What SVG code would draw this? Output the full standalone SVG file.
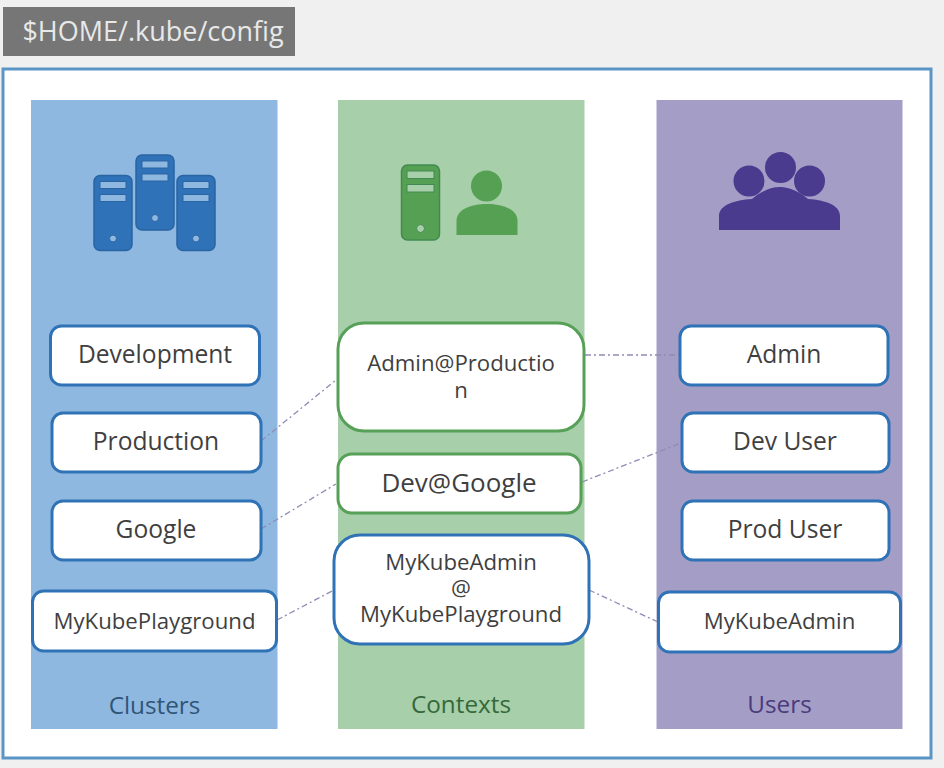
<svg xmlns="http://www.w3.org/2000/svg" width="944" height="768" viewBox="0 0 944 768">
<style>
text{font-family:"Open Sans","Noto Sans",sans-serif;fill:#3f3f3f;text-anchor:middle}
.n{fill:#fff;stroke-width:3}
.b{stroke:#2f72b5}.g{stroke:#57a057}
.t{font-size:24.600px}.d{font-size:26px}.s{font-size:22.200px}.l{font-size:24.300px}
.c{fill:none;stroke:#8f8cb4;stroke-width:1.3;stroke-dasharray:6 3 2 3}
.sv{fill:#2f72b8;stroke:#2a64a3;stroke-width:1.5}
.sl{fill:#8fb8e0;stroke:#2a64a3;stroke-width:1}
.gv{fill:#55a052;stroke:#438a52;stroke-width:1.5}
.gl{fill:#a7cfa9;stroke:#438a52;stroke-width:1}
</style>
<rect width="944" height="768" fill="#f0f0f0"/>
<g id="title"><rect x="3" y="7" width="292" height="49" fill="#767676"/><text x="153" y="41" style="fill:#e8e8e8;font-size:27px">$HOME/.kube/config</text></g>
<rect x="3" y="69" width="928" height="689" fill="#fff" stroke="#5b95c6" stroke-width="3"/>
<rect x="31" y="100" width="246.500" height="629" fill="#8fb8e0"/>
<rect x="338" y="100" width="246.500" height="629" fill="#a7cfa9"/>
<rect x="656.500" y="100" width="246" height="629" fill="#a49dc6"/>
<g id="clusters-icon">
<rect class="sv" x="94" y="175.500" width="38" height="75" rx="6"/><rect class="sl" x="100" y="181.500" width="26" height="7"/><rect class="sl" x="100" y="194.500" width="26" height="7"/><circle class="sl" cx="113" cy="238.500" r="3.500"/>
<rect class="sv" x="136" y="155" width="38" height="75" rx="6"/><rect class="sl" x="142" y="161" width="26" height="7"/><rect class="sl" x="142" y="174" width="26" height="7"/><circle class="sl" cx="155" cy="218" r="3.500"/>
<rect class="sv" x="177" y="175.500" width="38" height="75" rx="6"/><rect class="sl" x="183" y="181.500" width="26" height="7"/><rect class="sl" x="183" y="194.500" width="26" height="7"/><circle class="sl" cx="196" cy="238.500" r="3.500"/>
</g>
<g id="contexts-icon">
<rect class="gv" x="401.500" y="165" width="38" height="75" rx="6"/><rect class="gl" x="407" y="171" width="27" height="7.500"/><rect class="gl" x="407" y="184.500" width="27" height="7.500"/><circle class="gl" cx="420.500" cy="228.500" r="4"/>
<circle cx="486.500" cy="186" r="15.500" fill="#55a052"/>
<path d="M456.500 235V221C456.500 209 472 204 487 204S517.500 209 517.500 221V235Z" fill="#55a052"/>
</g>
<g id="users-icon" fill="#4a3b8f">
<circle cx="749" cy="181" r="15.500"/><circle cx="780.500" cy="167.500" r="15.500"/><circle cx="809.500" cy="181" r="15.500"/>
<path d="M719 230V216C719 205 735 200 752 199C760 192 770 187 780 187S800 192 808 199C825 200 840 205 840 216V230Z"/>
</g>
<g id="connectors">
<path class="c" d="M261 441L336 380"/><path class="c" d="M261 529L336 484"/><path class="c" d="M277 620L334 590"/>
<path class="c" d="M585 355L680 355"/><path class="c" d="M582 482L681 443"/><path class="c" d="M589 590L658 622"/>
</g>
<g id="development"><rect class="n b" x="50.500" y="326" width="209" height="59" rx="11"/><text class="t" x="155" y="363">Development</text></g>
<g id="production"><rect class="n b" x="52" y="413" width="209" height="59" rx="11"/><text class="t" x="156" y="450">Production</text></g>
<g id="google"><rect class="n b" x="52" y="501" width="209" height="59" rx="11"/><text class="t" x="156" y="538">Google</text></g>
<g id="mykubeplayground"><rect class="n b" x="32.500" y="591" width="244" height="60" rx="11"/><text class="s" x="154.500" y="629">MyKubePlayground</text></g>
<g id="admin-production"><rect class="n g" x="338" y="323" width="246" height="108" rx="26"/><text class="s" x="461" y="371"><tspan x="461">Admin@Productio</tspan><tspan x="461" dy="27">n</tspan></text></g>
<g id="dev-google"><rect class="n g" x="338" y="454" width="243" height="59" rx="14"/><text class="d" x="459" y="492">Dev@Google</text></g>
<g id="mykubeadmin-playground"><rect class="n b" x="334" y="535" width="255" height="109" rx="26"/><text class="s" x="461" y="570"><tspan x="461">MyKubeAdmin</tspan><tspan x="461" dy="26">@</tspan><tspan x="461" dy="26">MyKubePlayground</tspan></text></g>
<g id="admin"><rect class="n b" x="680" y="326" width="208" height="59" rx="11"/><text class="t" x="784" y="363">Admin</text></g>
<g id="dev-user"><rect class="n b" x="682" y="413" width="207" height="59" rx="11"/><text class="t" x="785" y="450">Dev User</text></g>
<g id="prod-user"><rect class="n b" x="682" y="501" width="207" height="59" rx="11"/><text class="t" x="785" y="538">Prod User</text></g>
<g id="mykubeadmin"><rect class="n b" x="658.500" y="592" width="242" height="60" rx="11"/><text class="s" x="779.500" y="629">MyKubeAdmin</text></g>
<text class="l" x="154.500" y="714" style="fill:#2f5578">Clusters</text>
<text class="l" x="461" y="713" style="fill:#35693c">Contexts</text>
<text class="l" x="779.500" y="713" style="fill:#4a3b7a">Users</text>
</svg>
